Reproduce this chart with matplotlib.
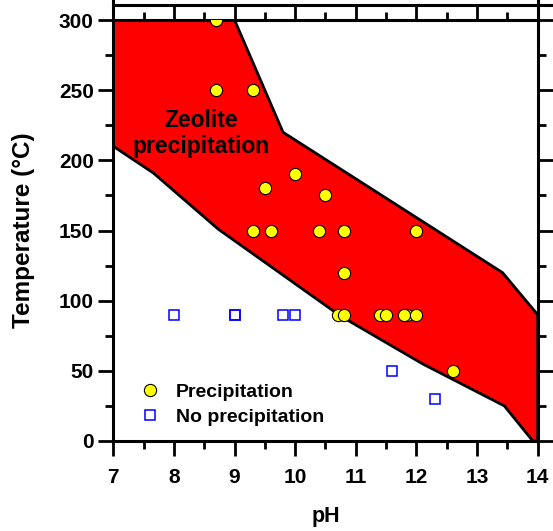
import matplotlib
matplotlib.use('Agg')
import matplotlib.pyplot as plt
from matplotlib.ticker import MultipleLocator

plt.rcParams['font.family'] = ['Liberation Sans', 'DejaVu Sans']
plt.rcParams['font.weight'] = 'bold'

# 沸石析出區域邊界 (pH, 溫度)
zone_ph = [7, 9, 9.8, 13.42, 14, 14, 13.92, 13.45, 12.1, 10.75, 8.73, 7.66, 7]
zone_t = [300, 300, 220, 120, 90, 0, 0, 25, 55, 89, 151, 191, 210]

# 有析出
prec_ph = [8.7, 8.7, 9.3, 9.5, 10.0, 10.5, 9.3, 9.6, 10.4, 10.8, 12.0, 10.8,
           10.7, 10.8, 11.4, 11.5, 11.85, 11.8, 12.0, 12.6]
prec_t = [300, 250, 250, 180, 190, 175, 150, 150, 150, 150, 150, 120,
          90, 90, 90, 90, 90, 90, 90, 50]

# 無析出
noprec_ph = [8.0, 9.0, 9.0, 9.8, 10.0, 11.6, 12.3]
noprec_t = [90, 90, 90, 90, 90, 50, 30]

fig = plt.figure(figsize=(5.53, 5.31), dpi=100)
ax = fig.add_axes([0.2049, 0.1695, 0.7674, 0.7928])

ax.fill(zone_ph, zone_t, facecolor='#ff0000', edgecolor='black', linewidth=2.0, zorder=1)
ax.text(8.45, 219, 'Zeolite\nprecipitation', ha='center', va='center',
        fontsize=16.5, fontweight='bold', linespacing=1.2, zorder=3)

ax.plot(prec_ph, prec_t, 'o', markersize=8.8, markerfacecolor='#ffff00',
        markeredgecolor='black', markeredgewidth=0.8, label='Precipitation', zorder=4)
ax.plot(noprec_ph, noprec_t, 's', markersize=7.6, markerfacecolor='none',
        markeredgecolor='#0000ff', markeredgewidth=1.1, label='No precipitation', zorder=4)

ax.set_xlim(7, 14)
ax.set_ylim(0, 300)
ax.xaxis.set_major_locator(MultipleLocator(1))
ax.xaxis.set_minor_locator(MultipleLocator(0.5))
ax.yaxis.set_major_locator(MultipleLocator(50))
ax.yaxis.set_minor_locator(MultipleLocator(25))

ax.tick_params(which='both', direction='out', top=True, right=True, width=2.0)
ax.tick_params(which='major', length=10.5)
ax.tick_params(which='minor', length=5.5)
ax.tick_params(axis='x', which='major', labelsize=15, pad=9)
ax.tick_params(axis='y', which='major', labelsize=15, pad=3.5)
for lab in ax.get_xticklabels() + ax.get_yticklabels():
    lab.set_fontweight('bold')
for sp in ax.spines.values():
    sp.set_linewidth(2.2)

ax.set_xlabel('pH', fontsize=15.5, fontweight='bold')
ax.set_ylabel('Temperature (°C)', fontsize=17.5, fontweight='bold')
ax.xaxis.set_label_coords(0.5, -0.155)
ax.yaxis.set_label_coords(-0.185, 0.5)

# 上方框線
ax.plot([0, 0], [1, 1.05], transform=ax.transAxes, color='black', lw=2.2, clip_on=False)
ax.plot([1, 1], [1, 1.05], transform=ax.transAxes, color='black', lw=2.2, clip_on=False)
ax.plot([0, 1.05], [1.0356, 1.0356], transform=ax.transAxes, color='black', lw=2.2,
        clip_on=False)

ax.legend(loc='upper left', bbox_to_anchor=(0.063, 0.138), frameon=False,
          handlelength=1.0, handletextpad=0.85, labelspacing=0.42,
          borderpad=0, borderaxespad=0, prop={'weight': 'bold', 'size': 14})

fig.savefig('out.png', dpi=100)
